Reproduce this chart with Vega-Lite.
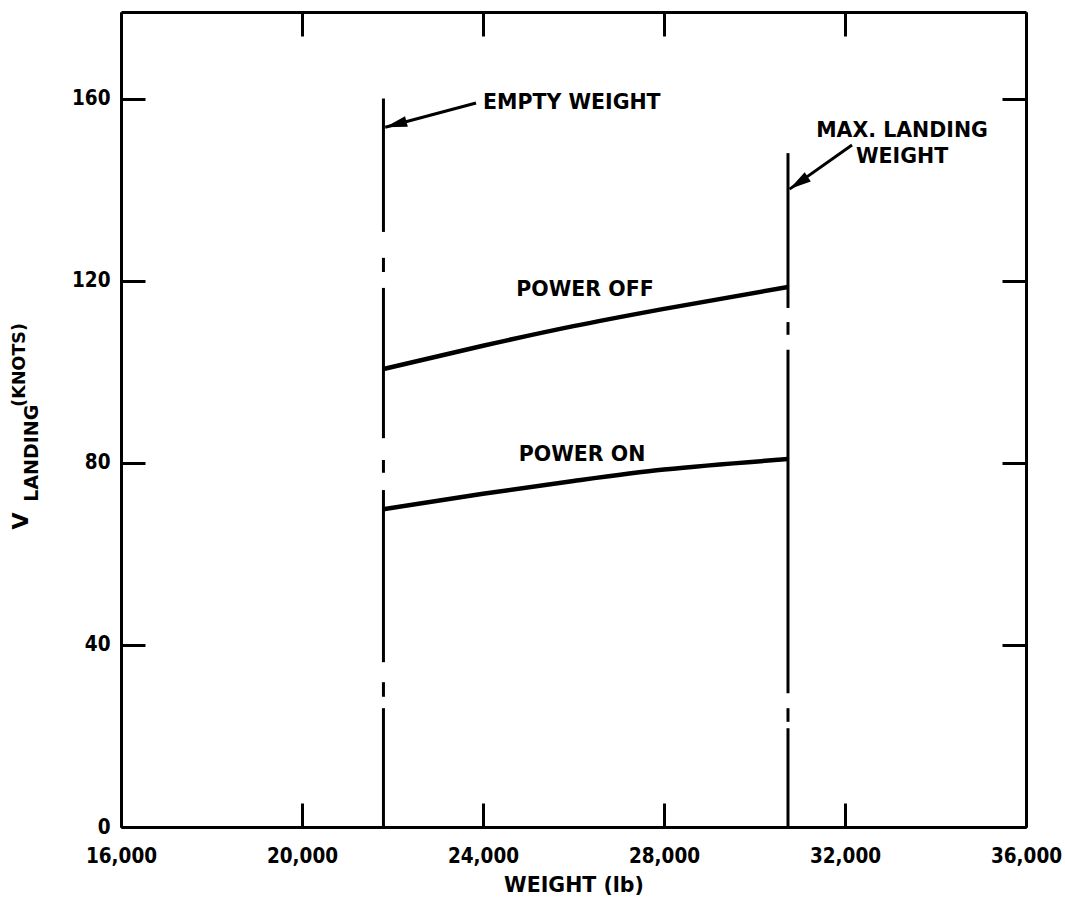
{
  "$schema": "https://vega.github.io/schema/vega-lite/v6.json",
  "width": 905,
  "height": 815,
  "autosize": {"type": "none"},
  "padding": {"left": 121, "top": 12, "right": 39, "bottom": 82},
  "background": "white",
  "config": {
    "view": {"stroke": null},
    "axis": {
      "grid": false,
      "domainColor": "black",
      "domainWidth": 3,
      "tickColor": "black",
      "tickWidth": 3,
      "tickSize": -24,
      "labelColor": "black",
      "titleColor": "black"
    }
  },
  "datasets": {
    "segments": [
      {"line": "EMPTY WEIGHT", "weight": 21800, "from": 160, "to": 130.7},
      {"line": "EMPTY WEIGHT", "weight": 21800, "from": 125.0, "to": 121.9},
      {"line": "EMPTY WEIGHT", "weight": 21800, "from": 118.4, "to": 85.4},
      {"line": "EMPTY WEIGHT", "weight": 21800, "from": 80.6, "to": 77.8},
      {"line": "EMPTY WEIGHT", "weight": 21800, "from": 74.0, "to": 36.2},
      {"line": "EMPTY WEIGHT", "weight": 21800, "from": 31.8, "to": 28.6},
      {"line": "EMPTY WEIGHT", "weight": 21800, "from": 26.1, "to": 0},
      {"line": "MAX. LANDING WEIGHT", "weight": 30740, "from": 148.0, "to": 114.0},
      {"line": "MAX. LANDING WEIGHT", "weight": 30740, "from": 110.9, "to": 108.1},
      {"line": "MAX. LANDING WEIGHT", "weight": 30740, "from": 104.8, "to": 29.4},
      {"line": "MAX. LANDING WEIGHT", "weight": 30740, "from": 26.1, "to": 23.1},
      {"line": "MAX. LANDING WEIGHT", "weight": 30740, "from": 21.7, "to": 0}
    ],
    "curves": [
      {"series": "POWER OFF", "weight": 21800, "v": 100.6},
      {"series": "POWER OFF", "weight": 24000, "v": 105.7},
      {"series": "POWER OFF", "weight": 26000, "v": 110.0},
      {"series": "POWER OFF", "weight": 28000, "v": 113.8},
      {"series": "POWER OFF", "weight": 30740, "v": 118.6},
      {"series": "POWER ON", "weight": 21800, "v": 69.8},
      {"series": "POWER ON", "weight": 24000, "v": 73.2},
      {"series": "POWER ON", "weight": 26000, "v": 76.0},
      {"series": "POWER ON", "weight": 28000, "v": 78.5},
      {"series": "POWER ON", "weight": 30740, "v": 80.8}
    ],
    "arrows": [
      {"arrow": "EMPTY WEIGHT", "w1": 23846, "v1": 159.0, "w2": 21840, "v2": 153.7},
      {"arrow": "MAX. LANDING WEIGHT", "w1": 32155, "v1": 149.8, "w2": 30775, "v2": 140.1}
    ],
    "notes": [
      {"text": "EMPTY WEIGHT", "weight": 24000, "v": 159.0},
      {"text": "MAX. LANDING", "weight": 33260, "v": 152.9},
      {"text": "WEIGHT", "weight": 33260, "v": 147.2},
      {"text": "POWER OFF", "weight": 26254, "v": 117.9},
      {"text": "POWER ON", "weight": 26188, "v": 81.7}
    ],
    "ytitle": [
      {"text": "V", "weight": 13790, "v": 67.2},
      {"text": "LANDING", "weight": 14030, "v": 82.1},
      {"text": "(KNOTS)", "weight": 13760, "v": 101.5}
    ]
  },
  "layer": [
    {
      "data": {"name": "segments"},
      "mark": {"type": "rule", "color": "black", "strokeWidth": 3, "strokeCap": "butt"},
      "encoding": {
        "x": {
          "field": "weight", "type": "quantitative",
          "scale": {"domain": [16000, 36000], "nice": false, "zero": false},
          "axis": {
            "orient": "bottom",
            "values": [16000, 20000, 24000, 28000, 32000, 36000],
            "format": ",.0f",
            "labelFont": "DejaVu Sans Condensed", "labelFontWeight": "bold", "labelFontSize": 20.5,
            "labelPadding": 43, "labelFlush": false,
            "title": "WEIGHT (lb)",
            "titleFont": "DejaVu Sans", "titleFontWeight": "bold", "titleFontSize": 20.5,
            "titlePadding": 9
          }
        },
        "y": {
          "field": "from", "type": "quantitative",
          "scale": {"domain": [0, 179], "nice": false, "zero": false},
          "axis": {
            "orient": "left",
            "values": [0, 40, 80, 120, 160],
            "format": "d",
            "labelFont": "DejaVu Sans Condensed", "labelFontWeight": "bold", "labelFontSize": 20.5,
            "labelPadding": 35, "labelFlush": false,
            "title": null
          }
        },
        "y2": {"field": "to"}
      }
    },
    {
      "data": {"name": "segments"},
      "mark": {"type": "point", "opacity": 0},
      "encoding": {
        "x": {
          "field": "weight", "type": "quantitative",
          "scale": {"domain": [16000, 36000], "nice": false, "zero": false},
          "axis": {"orient": "top", "values": [16000, 20000, 24000, 28000, 32000, 36000], "labels": false, "title": null}
        },
        "y": {
          "field": "from", "type": "quantitative",
          "scale": {"domain": [0, 179], "nice": false, "zero": false},
          "axis": {"orient": "right", "values": [0, 40, 80, 120, 160], "labels": false, "title": null}
        }
      }
    },
    {
      "data": {"name": "curves"},
      "mark": {"type": "line", "color": "black", "strokeWidth": 4.5, "interpolate": "monotone"},
      "encoding": {
        "x": {"field": "weight", "type": "quantitative", "scale": {"domain": [16000, 36000], "nice": false, "zero": false}, "axis": null},
        "y": {"field": "v", "type": "quantitative", "scale": {"domain": [0, 179], "nice": false, "zero": false}, "axis": null},
        "detail": {"field": "series"}
      }
    },
    {
      "data": {"name": "arrows"},
      "mark": {"type": "rule", "color": "black", "strokeWidth": 3},
      "encoding": {
        "x": {"field": "w1", "type": "quantitative", "scale": {"domain": [16000, 36000], "nice": false, "zero": false}, "axis": null},
        "y": {"field": "v1", "type": "quantitative", "scale": {"domain": [0, 179], "nice": false, "zero": false}, "axis": null},
        "x2": {"field": "w2"},
        "y2": {"field": "v2"}
      }
    },
    {
      "data": {"name": "arrows"},
      "transform": [{"filter": "datum.arrow === 'EMPTY WEIGHT'"}],
      "mark": {"type": "point", "shape": "M0,0L2,-0.5L2,0.5Z", "filled": true, "color": "black", "opacity": 1, "size": 480, "angle": 345, "strokeWidth": 0},
      "encoding": {
        "x": {"field": "w2", "type": "quantitative", "scale": {"domain": [16000, 36000], "nice": false, "zero": false}, "axis": null},
        "y": {"field": "v2", "type": "quantitative", "scale": {"domain": [0, 179], "nice": false, "zero": false}, "axis": null}
      }
    },
    {
      "data": {"name": "arrows"},
      "transform": [{"filter": "datum.arrow === 'MAX. LANDING WEIGHT'"}],
      "mark": {"type": "point", "shape": "M0,0L2,-0.5L2,0.5Z", "filled": true, "color": "black", "opacity": 1, "size": 480, "angle": 326, "strokeWidth": 0},
      "encoding": {
        "x": {"field": "w2", "type": "quantitative", "scale": {"domain": [16000, 36000], "nice": false, "zero": false}, "axis": null},
        "y": {"field": "v2", "type": "quantitative", "scale": {"domain": [0, 179], "nice": false, "zero": false}, "axis": null}
      }
    },
    {
      "data": {"name": "notes"},
      "transform": [{"filter": "datum.text === 'EMPTY WEIGHT'"}],
      "mark": {"type": "text", "align": "left", "baseline": "middle", "font": "DejaVu Sans", "fontWeight": "bold", "fontSize": 20.5, "color": "black"},
      "encoding": {
        "x": {"field": "weight", "type": "quantitative", "scale": {"domain": [16000, 36000], "nice": false, "zero": false}, "axis": null},
        "y": {"field": "v", "type": "quantitative", "scale": {"domain": [0, 179], "nice": false, "zero": false}, "axis": null},
        "text": {"field": "text"}
      }
    },
    {
      "data": {"name": "notes"},
      "transform": [{"filter": "datum.text !== 'EMPTY WEIGHT'"}],
      "mark": {"type": "text", "align": "center", "baseline": "middle", "font": "DejaVu Sans", "fontWeight": "bold", "fontSize": 20.5, "color": "black"},
      "encoding": {
        "x": {"field": "weight", "type": "quantitative", "scale": {"domain": [16000, 36000], "nice": false, "zero": false}, "axis": null},
        "y": {"field": "v", "type": "quantitative", "scale": {"domain": [0, 179], "nice": false, "zero": false}, "axis": null},
        "text": {"field": "text"}
      }
    },
    {
      "data": {"name": "ytitle"},
      "transform": [{"filter": "datum.text === 'V'"}],
      "mark": {"type": "text", "align": "center", "baseline": "middle", "angle": 270, "font": "DejaVu Sans", "fontWeight": "bold", "fontSize": 22, "color": "black"},
      "encoding": {
        "x": {"field": "weight", "type": "quantitative", "scale": {"domain": [16000, 36000], "nice": false, "zero": false}, "axis": null},
        "y": {"field": "v", "type": "quantitative", "scale": {"domain": [0, 179], "nice": false, "zero": false}, "axis": null},
        "text": {"field": "text"}
      }
    },
    {
      "data": {"name": "ytitle"},
      "transform": [{"filter": "datum.text === 'LANDING'"}],
      "mark": {"type": "text", "align": "center", "baseline": "middle", "angle": 270, "font": "DejaVu Sans", "fontWeight": "bold", "fontSize": 19, "color": "black"},
      "encoding": {
        "x": {"field": "weight", "type": "quantitative", "scale": {"domain": [16000, 36000], "nice": false, "zero": false}, "axis": null},
        "y": {"field": "v", "type": "quantitative", "scale": {"domain": [0, 179], "nice": false, "zero": false}, "axis": null},
        "text": {"field": "text"}
      }
    },
    {
      "data": {"name": "ytitle"},
      "transform": [{"filter": "datum.text === '(KNOTS)'"}],
      "mark": {"type": "text", "align": "center", "baseline": "middle", "angle": 270, "font": "DejaVu Sans", "fontWeight": "bold", "fontSize": 17.5, "color": "black"},
      "encoding": {
        "x": {"field": "weight", "type": "quantitative", "scale": {"domain": [16000, 36000], "nice": false, "zero": false}, "axis": null},
        "y": {"field": "v", "type": "quantitative", "scale": {"domain": [0, 179], "nice": false, "zero": false}, "axis": null},
        "text": {"field": "text"}
      }
    }
  ],
  "resolve": {"axis": {"x": "independent", "y": "independent"}}
}
